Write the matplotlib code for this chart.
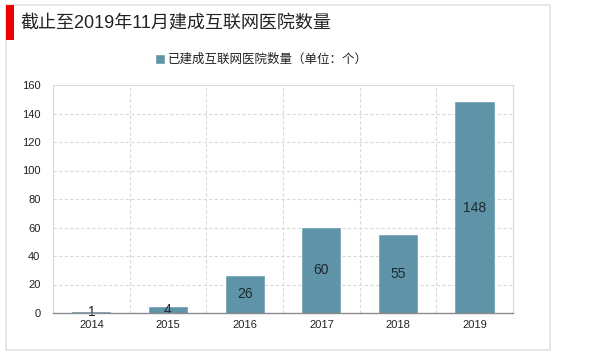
import matplotlib
matplotlib.use('Agg')
import matplotlib.pyplot as plt
from matplotlib.patches import Rectangle

# data
years = ['2014', '2015', '2016', '2017', '2018', '2019']
hospitals = [1, 4, 26, 60, 55, 148]
y_ticks = [0, 20, 40, 60, 80, 100, 120, 140, 160]

title = '截止至2019年11月建成互联网医院数量'
series_name = '已建成互联网医院数量（单位：个）'

FONTS = ['Liberation Sans', 'Noto Sans CJK SC', 'DejaVu Sans']
plt.rcParams['font.family'] = FONTS

BAR_COLOR = '#5f93a8'
GRID_COLOR = '#d9d9d9'

fig = plt.figure(figsize=(6, 3.54), dpi=100)

# outer panel frame and red marker
fig.patches.append(Rectangle((6 / 600, 1 - 350 / 354), 544 / 600, 345 / 354,
                             transform=fig.transFigure, fill=False,
                             edgecolor='#e3e3e3', lw=1.2, zorder=0))
fig.patches.append(Rectangle((6 / 600, 1 - 40 / 354), 8 / 600, 35 / 354,
                             transform=fig.transFigure, facecolor='#ee0000',
                             edgecolor='none', zorder=1))
fig.text(20 / 600, 1 - 23 / 354, title, fontsize=13, color='#222222',
         va='center', ha='left')

ax = fig.add_axes([53 / 600, 1 - 313 / 354, 460 / 600, 228 / 354])
x = list(range(len(years)))
bars = ax.bar(x, hospitals, width=0.5, color=BAR_COLOR, edgecolor='#7aa6b8',
              linewidth=0.6, zorder=3, label=series_name)

for xi, v in zip(x, hospitals):
    ax.text(xi, v / 2, str(v), ha='center', va='center', fontsize=10,
            color='#1f2a30', zorder=4)

ax.set_xlim(-0.5, len(years) - 0.5)
ax.set_ylim(0, 160)
ax.set_xticks(x)
ax.set_xticklabels(years)
ax.set_yticks(y_ticks)
ax.tick_params(length=0, labelsize=8, colors='#222222')
ax.tick_params(axis='y', pad=9)
ax.tick_params(axis='x', pad=5)

# dashed grid: horizontal at ticks, vertical between categories
for yv in y_ticks[1:-1]:
    ax.axhline(yv, color=GRID_COLOR, lw=0.8, ls=(0, (3, 2)), zorder=1)
for xb in [i + 0.5 for i in x[:-1]]:
    ax.axvline(xb, color=GRID_COLOR, lw=0.8, ls=(0, (3, 2)), zorder=1)

for side in ['top', 'left', 'right']:
    ax.spines[side].set_color(GRID_COLOR)
    ax.spines[side].set_linewidth(0.8)
ax.spines['bottom'].set_color('#8c8c8c')
ax.spines['bottom'].set_linewidth(1.0)
ax.spines['bottom'].set_zorder(5)

fig.legend(handles=[bars], labels=[series_name], loc='center',
           bbox_to_anchor=(262 / 600, 1 - 60 / 354), frameon=False,
           fontsize=9, handlelength=0.6, handleheight=0.6,
           handletextpad=0.3, labelcolor='#222222')

plt.savefig('out.png', dpi=100)
